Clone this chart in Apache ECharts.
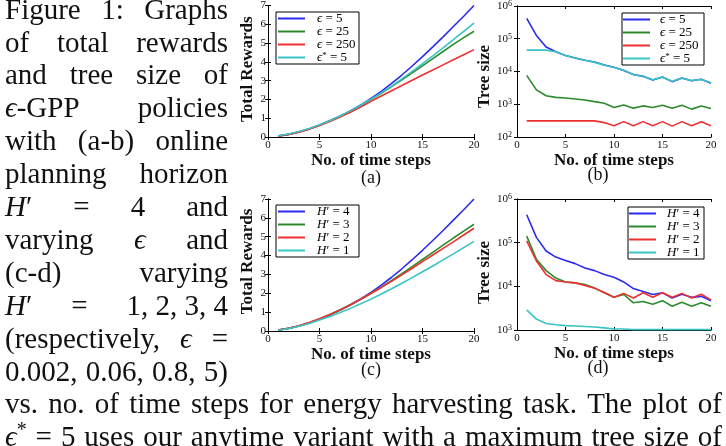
<!DOCTYPE html>
<html><head><meta charset="utf-8">
<script src="https://cdn.jsdelivr.net/npm/echarts@6/dist/echarts.min.js"></script>
<style>html,body{margin:0;padding:0;background:#fff}#c{width:726px;height:446px}</style>
</head><body><div id="c"></div>
<script>
// ---------------- data ----------------
const steps = [1,2,3,4,5,6,7,8,9,10,11,12,13,14,15,16,17,18,19,20];

const rewardEps5     = [0.05,0.14,0.27,0.43,0.63,0.86,1.11,1.39,1.70,2.05,2.43,2.85,3.30,3.78,4.28,4.80,5.33,5.88,6.43,7.00];
const rewardEps25    = [0.05,0.14,0.27,0.43,0.63,0.86,1.11,1.38,1.68,2.00,2.33,2.68,3.04,3.41,3.79,4.17,4.55,4.93,5.29,5.63];
const rewardEps250   = [0.04,0.13,0.26,0.42,0.61,0.83,1.07,1.32,1.60,1.90,2.18,2.46,2.74,3.02,3.30,3.57,3.84,4.11,4.38,4.65];
const rewardEpsStar5 = [0.07,0.16,0.29,0.45,0.65,0.87,1.12,1.39,1.69,2.01,2.35,2.71,3.09,3.49,3.90,4.32,4.75,5.18,5.62,6.06];

const treeEps5     = [417000,126000,56000,40000,31000,26000,22000,19500,15800,13500,10700,8100,7100,5500,6800,4900,6300,5200,5800,4400];
const treeEps25    = [7600,2750,1820,1620,1550,1450,1350,1200,1070,800,950,760,890,800,930,760,930,710,890,740];
const treeEps250   = [310,310,310,310,310,310,310,310,275,220,295,220,295,220,295,215,295,220,290,220];
const treeEpsStar5 = [45000,45000,45000,40000,31000,26000,22000,19000,15500,13300,11000,8000,7200,5600,6700,5000,6200,5300,5700,4500];

const rewardH4 = [0.05,0.14,0.27,0.43,0.63,0.86,1.11,1.39,1.70,2.05,2.43,2.85,3.30,3.78,4.28,4.80,5.33,5.88,6.43,7.00];
const rewardH3 = [0.05,0.14,0.27,0.43,0.63,0.86,1.11,1.38,1.68,2.00,2.33,2.68,3.04,3.41,3.79,4.17,4.55,4.93,5.30,5.66];
const rewardH2 = [0.05,0.15,0.28,0.45,0.65,0.88,1.12,1.39,1.68,1.99,2.31,2.64,2.98,3.33,3.68,4.03,4.38,4.73,5.09,5.45];
const rewardH1 = [0.04,0.13,0.25,0.40,0.58,0.77,0.98,1.20,1.44,1.69,1.96,2.24,2.53,2.83,3.14,3.45,3.77,4.09,4.42,4.75];

const treeH4 = [436000,132000,64600,46800,38900,33100,26300,22900,18600,16200,12600,8900,7600,6500,7100,5400,6600,5600,5900,4700];
const treeH3 = [141000,41700,22900,15500,12600,12000,11000,9100,7100,5600,6500,4200,4500,3900,4700,3500,4300,3500,4200,3500];
const treeH2 = [110000,38000,18600,13500,12600,12000,10500,9100,7200,5600,6900,5400,7100,5600,7100,5600,6900,5400,6600,4900];
const treeH1 = [2900,1780,1410,1320,1260,1230,1200,1170,1120,1050,1050,1020,1020,1020,1020,1020,1020,1020,1020,1020];

const epsNames = ['ϵ = 5','ϵ = 25','ϵ = 250','ϵ* = 5'];
const hNames   = ['H′ = 4','H′ = 3','H′ = 2','H′ = 1'];
const subLabels = ['(a)','(b)','(c)','(d)'];
const xName = 'No. of time steps';
const yNames = ['Total Rewards','Tree size','Total Rewards','Tree size'];

const captionLines = [
  ['Figure','1:','Graphs'],
  ['of','total','rewards'],
  ['and','tree','size','of'],
  ['_ϵ_-GPP','policies'],
  ['with','(a-b)','online'],
  ['planning','horizon'],
  ['_H_′','=','4','and'],
  ['varying','_ϵ_','and'],
  ['(c-d)','varying'],
  ['_H_′','=','1, 2, 3, 4'],
  ['(respectively,','_ϵ_','='],
  ['0.002,','0.06,','0.8,','5)'],
  'vs. no. of time steps for energy harvesting task. The plot of'.split(' '),
  ('_ϵ_^*^ = 5 uses our anytime variant with a maximum tree size of').split(' ')
];

// ---------------- style ----------------
const SERIF = '"Liberation Serif", "Times New Roman", serif';
const COL = ['#2b2bee', '#2c8a2c', '#ee3030', '#38c4c4'];
const grids = [
  {left:268, top:4,   width:206, height:133},
  {left:517, top:5,   width:194, height:132},
  {left:268, top:199, width:206, height:132},
  {left:517, top:199, width:194, height:131}
];
const legendBox = [
  {left:276, top:12,  padding:[0,2,0,2], tpad:7, tw:40},
  {left:622, top:13,  padding:[0,2,0,1], tpad:5, tw:42},
  {left:276, top:205, padding:[0,2,0,2], tpad:7, tw:40},
  {left:628, top:207, padding:[0,2,0,1], tpad:6, tw:35}
];
const yNamePad = [[0,0,0,4],[0,10,0,0],[0,0,0,7],[0,16,0,0]];
const yNameGap = [8,21,8,21];
const subPos = [[371,178],[598,175],[371,370],[598,368]];

const legendFmt = {
  'ϵ = 5':'{i|ϵ} = 5', 'ϵ = 25':'{i|ϵ} = 25', 'ϵ = 250':'{i|ϵ} = 250', 'ϵ* = 5':'{i|ϵ}{s|*} = 5',
  'H′ = 4':'{i|H}′ = 4', 'H′ = 3':'{i|H}′ = 3', 'H′ = 2':'{i|H}′ = 2', 'H′ = 1':'{i|H}′ = 1'
};

const xAxes = [], yAxes = [], series = [], legends = [];
const tickStyle = {show:true, inside:true, length:3, lineStyle:{color:'#000', width:1}};
const lineStyleAx = {show:true, lineStyle:{color:'#000', width:1}};

function logLabel(v){
  const e = Math.round(Math.log10(v));
  return '{b|10}{s|' + e + '}';
}
const logRich = {
  b:{fontSize:11, fontFamily:SERIF, color:'#111'},
  s:{fontSize:8, fontFamily:SERIF, color:'#111', verticalAlign:'top', padding:[0,0,4,0]}
};

for (let g = 0; g < 4; g++) {
  const isLog = (g % 2 === 1);
  xAxes.push({
    type:'value', gridIndex:g, min:0, max:20, interval:5, position:'bottom',
    axisLine:lineStyleAx, axisTick:tickStyle, splitLine:{show:false},
    axisLabel:{fontSize:11, fontFamily:SERIF, color:'#111', margin:3},
    name:xName, nameLocation:'middle', nameGap:12,
    nameTextStyle:{fontFamily:SERIF, fontWeight:'bold', fontSize:17, color:'#111'}
  });
  xAxes.push({
    type:'value', gridIndex:g, min:0, max:20, interval:5, position:'top',
    axisLine:lineStyleAx, axisTick:tickStyle, splitLine:{show:false}, axisLabel:{show:false}
  });
  const yBase = isLog
    ? {type:'log', logBase:10, min:(g===1?100:1000), max:1000000}
    : {type:'value', min:0, max:7, interval:1};
  yAxes.push(Object.assign({}, yBase, {
    gridIndex:g, position:'left',
    axisLine:lineStyleAx, axisTick:tickStyle, splitLine:{show:false},
    axisLabel: isLog
      ? {formatter:logLabel, rich:logRich, margin:5}
      : {fontSize:11, fontFamily:SERIF, color:'#111', margin:2},
    name:yNames[g], nameLocation:'middle', nameGap:yNameGap[g],
    nameTextStyle:{fontFamily:SERIF, fontWeight:'bold', fontSize:17, color:'#111', padding:yNamePad[g]}
  }));
  yAxes.push(Object.assign({}, yBase, {
    gridIndex:g, position:'right',
    axisLine:lineStyleAx, axisTick:tickStyle, splitLine:{show:false}, axisLabel:{show:false}
  }));
}

const seriesSets = [
  [rewardEps5, rewardEps25, rewardEps250, rewardEpsStar5],
  [treeEps5, treeEps25, treeEps250, treeEpsStar5],
  [rewardH4, rewardH3, rewardH2, rewardH1],
  [treeH4, treeH3, treeH2, treeH1]
];
for (let g = 0; g < 4; g++) {
  const names = (g < 2) ? epsNames : hNames;
  seriesSets[g].forEach((arr, k) => {
    series.push({
      type:'line', name:names[k], xAxisIndex:2*g, yAxisIndex:2*g,
      data: steps.map((x, i) => [x, arr[i]]),
      symbol:'none', showSymbol:false, smooth:false,
      color:COL[k], lineStyle:{color:COL[k], width:1.6}, itemStyle:{color:COL[k]},
      animation:false, silent:true
    });
  });
  const lb = legendBox[g];
  legends.push({
    orient:'vertical', left:lb.left, top:lb.top, data:names,
    icon:'rect', itemWidth:27, itemHeight:2, itemGap:0,
    padding:lb.padding, borderColor:'#000', borderWidth:1, backgroundColor:'#fff',
    selectedMode:false, z:10,
    formatter: n => legendFmt[n],
    textStyle:{fontFamily:SERIF, fontSize:13, color:'#000', lineHeight:12.7,
      width:lb.tw, padding:[0,0,0,lb.tpad],
      rich:{
        i:{fontFamily:SERIF, fontSize:13, fontStyle:'italic', color:'#000', lineHeight:12.7},
        s:{fontFamily:SERIF, fontSize:9, color:'#000', verticalAlign:'top', lineHeight:12.7}
      }}
  });
}

// ---------------- caption (justified words) ----------------
const CAP_FS = 29;
const CAP_Y0 = 11, CAP_DY = 32.9;
const mctx = document.createElement('canvas').getContext('2d');
function parseWord(w){
  const frags = []; let buf = ''; let mode = null;
  for (const ch of w) {
    if (ch === '_' || ch === '^') {
      const m = ch === '_' ? 'i' : 's';
      if (buf) frags.push({t:buf, mode:mode});
      buf = '';
      mode = (mode === m) ? null : m;
    } else buf += ch;
  }
  if (buf) frags.push({t:buf, mode:mode});
  return frags;
}
function fragSize(f){ return f.mode === 's' ? Math.round(CAP_FS*0.7) : CAP_FS; }
function fragW(f){
  mctx.font = (f.mode === 'i' ? 'italic ' : '') + fragSize(f) + 'px ' + SERIF;
  return mctx.measureText(f.t).width;
}
const graphics = [];
captionLines.forEach((words, li) => {
  const full = li >= 12;
  const x0 = 5, x1 = full ? 722 : 228;
  const y = CAP_Y0 + CAP_DY * li;
  const parsed = words.map(parseWord);
  const widths = parsed.map(fr => fr.reduce((s, f) => s + fragW(f), 0));
  const total = widths.reduce((a, b) => a + b, 0);
  const gap = words.length > 1 ? (x1 - x0 - total) / (words.length - 1) : 0;
  let x = x0;
  parsed.forEach((fr, wi) => {
    fr.forEach(f => {
      graphics.push({
        type:'text', x:x, y:(f.mode === 's' ? y - CAP_FS*0.28 : y), silent:true,
        style:{text:f.t, fontFamily:SERIF, fontSize:fragSize(f),
          fontStyle:(f.mode === 'i' ? 'italic' : 'normal'),
          fill:'#111', align:'left', verticalAlign:'middle'}
      });
      x += fragW(f);
    });
    x += gap;
  });
});
subLabels.forEach((t, i) => {
  graphics.push({
    type:'text', x:subPos[i][0], y:subPos[i][1], silent:true,
    style:{text:t, fontFamily:SERIF, fontSize:18, fill:'#111', align:'center', verticalAlign:'middle'}
  });
});

const chart = echarts.init(document.getElementById('c'), null, {renderer:'canvas'});
chart.setOption({
  animation:false,
  backgroundColor:'#fff',
  grid:grids,
  xAxis:xAxes,
  yAxis:yAxes,
  legend:legends,
  series:series,
  graphic:graphics
});
</script>
</body></html>
